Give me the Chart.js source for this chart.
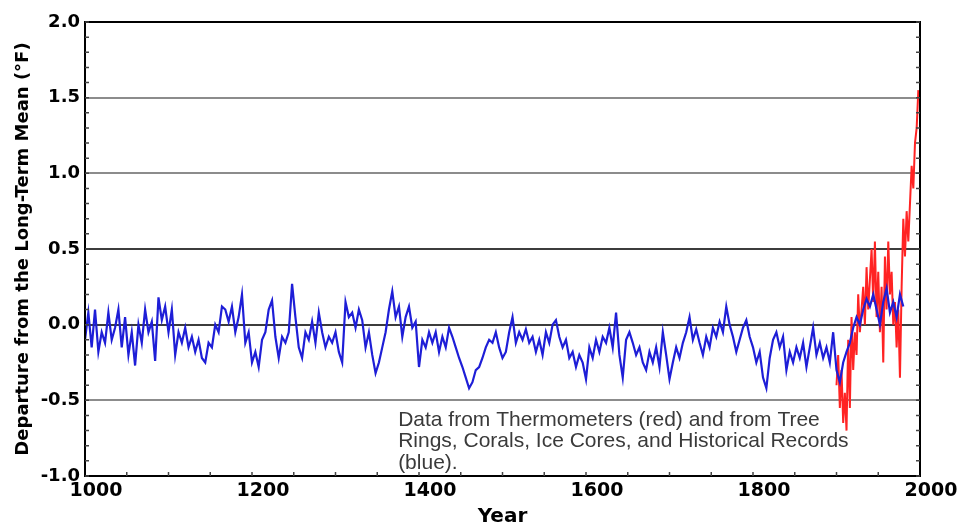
<!DOCTYPE html>
<html>
<head>
<meta charset="utf-8">
<script src="https://cdn.jsdelivr.net/npm/chart.js@4/dist/chart.umd.min.js"></script>
<style>
  html, body { margin: 0; padding: 0; background: #fff; }
</style>
</head>
<body>
<canvas id="chart" width="960" height="527"></canvas>
<script>
// proxy reconstruction (tree rings, corals, ice cores, records), every 4 years from 1000
const blueStart = 1000;
const blueStep = 4;
const blueValues = [
  -0.10, 0.08, -0.15, 0.10, -0.18, -0.05, -0.12, 0.08, -0.10, -0.02,
  0.10, -0.15, 0.05, -0.20, -0.05, -0.27, 0.00, -0.12, 0.10, -0.05,
  0.02, -0.24, 0.18, 0.03, 0.12, -0.05, 0.10, -0.20, -0.05, -0.12,
  -0.02, -0.15, -0.08, -0.18, -0.10, -0.22, -0.25, -0.12, -0.15, 0.00,
  -0.05, 0.12,
  0.10, 0.02, 0.12, -0.05, 0.05, 0.20, -0.12, -0.05, -0.25, -0.18,
  -0.28, -0.10, -0.05, 0.10, 0.16, -0.08, -0.22, -0.08, -0.12, -0.05,
  0.27, 0.05, -0.15, -0.22, -0.05, -0.10, 0.02, -0.12, 0.08, -0.05,
  -0.15, -0.08, -0.12, -0.05, -0.18, -0.25, 0.15, 0.05, 0.08, -0.02,
  0.10, 0.03,
  -0.15, -0.05, -0.20, -0.32, -0.25, -0.15, -0.05, 0.10, 0.22, 0.05,
  0.12, -0.08, 0.05, 0.12, -0.02, 0.02, -0.28, -0.10, -0.15, -0.05,
  -0.12, -0.05, -0.18, -0.08, -0.15, -0.02, -0.08, -0.15, -0.22, -0.28,
  -0.35, -0.42, -0.38, -0.30, -0.28, -0.22, -0.15, -0.10, -0.12, -0.05,
  -0.15, -0.22,
  -0.18, -0.05, 0.05, -0.12, -0.05, -0.10, -0.03, -0.12, -0.08, -0.18,
  -0.10, -0.20, -0.05, -0.12, 0.00, 0.03, -0.08, -0.15, -0.10, -0.22,
  -0.18, -0.28, -0.20, -0.25, -0.36, -0.15, -0.22, -0.10, -0.18, -0.08,
  -0.12, -0.02, -0.15, 0.08, -0.20, -0.35, -0.10, -0.05, -0.12, -0.20,
  -0.15, -0.25,
  -0.30, -0.18, -0.25, -0.15, -0.28, -0.05, -0.20, -0.36, -0.25, -0.15,
  -0.22, -0.12, -0.05, 0.05, -0.10, -0.03, -0.12, -0.20, -0.08, -0.15,
  -0.02, -0.08, 0.02, -0.05, 0.12, 0.00, -0.08, -0.18, -0.10, -0.02,
  0.03, -0.08, -0.15, -0.25, -0.18, -0.35, -0.42, -0.22, -0.10, -0.05,
  -0.15, -0.08,
  -0.30, -0.18, -0.25, -0.15, -0.22, -0.12, -0.28, -0.15, -0.02, -0.20,
  -0.12, -0.22, -0.15, -0.25, -0.05, -0.30, -0.38, -0.25, -0.18, -0.12,
  -0.02, 0.05, 0.00, 0.10, 0.17, 0.12, 0.20, 0.10, 0.00, 0.15,
  0.24, 0.08, 0.15, 0.05, 0.20, 0.12
];

// thermometer record, every 2 years from 1900
const redStart = 1900;
const redStep = 2;
const redValues = [
  -0.40, -0.20, -0.55, -0.30, -0.65, -0.45, -0.70, -0.10, -0.55, 0.05,
  -0.30, -0.05, -0.20, 0.20, -0.05, 0.10, 0.25, 0.00, 0.38, 0.10,
  0.30, 0.50, 0.15, 0.55, 0.05, 0.35, -0.05, 0.25, -0.25, 0.45,
  0.10, 0.55, 0.20, 0.35, 0.00, 0.15, -0.15, 0.10, -0.35, 0.25,
  0.70, 0.45, 0.75, 0.55, 0.80, 1.05, 0.90, 1.20, 1.30, 1.55
];

const noteLines = [
  'Data from Thermometers (red) and from Tree',
  'Rings, Corals, Ice Cores, and Historical Records',
  '(blue).'
];

const toPoints = (start, step, vals) => vals.map((v, i) => ({ x: start + i * step, y: v }));

// frame, small inside ticks and the note
const decor = {
  id: 'decor',
  afterDraw(chart) {
    const { ctx, chartArea: a, scales: { x, y } } = chart;
    ctx.save();
    ctx.strokeStyle = '#000';
    ctx.lineWidth = 2;
    ctx.strokeRect(a.left, a.top, a.right - a.left, a.bottom - a.top);

    ctx.strokeStyle = '#444';
    ctx.lineWidth = 1.5;
    ctx.beginPath();
    for (let k = -10; k <= 20; k++) {
      const py = y.getPixelForValue(k / 10);
      ctx.moveTo(a.left, py); ctx.lineTo(a.left + 4, py);
      ctx.moveTo(a.right, py); ctx.lineTo(a.right - 4, py);
    }
    for (let yr = 1050; yr < 2000; yr += 50) {
      const px = x.getPixelForValue(yr);
      ctx.moveTo(px, a.bottom); ctx.lineTo(px, a.bottom - 4);
    }
    ctx.stroke();

    ctx.fillStyle = '#3a3a3a';
    ctx.font = '21px "Liberation Sans", Arial, sans-serif';
    ctx.textAlign = 'left';
    ctx.textBaseline = 'middle';
    const tx = x.getPixelForValue(1375);
    const ty = y.getPixelForValue(-0.63);
    noteLines.forEach((line, i) => ctx.fillText(line, tx, ty + i * 21.5));
    ctx.restore();
  }
};

const tickFont = { family: 'DejaVu Sans', weight: 'bold', size: 19 };

new Chart(document.getElementById('chart'), {
  type: 'line',
  data: {
    datasets: [
      {
        label: 'Proxy',
        data: toPoints(blueStart, blueStep, blueValues),
        borderColor: 'rgb(30,30,215)',
        borderWidth: 2.2,
        order: 1
      },
      {
        label: 'Thermometers',
        data: toPoints(redStart, redStep, redValues),
        borderColor: 'rgb(255,35,35)',
        borderWidth: 2,
        order: 2
      }
    ]
  },
  options: {
    responsive: false,
    animation: false,
    parsing: false,
    layout: { padding: { top: 22, right: 40, left: 0, bottom: 0 } },
    elements: { point: { radius: 0 }, line: { tension: 0 } },
    plugins: { legend: { display: false }, tooltip: { enabled: false } },
    scales: {
      x: {
        type: 'linear',
        min: 1000,
        max: 2000,
        ticks: {
          stepSize: 200,
          labelOffset: 11,
          padding: 4,
          maxRotation: 0,
          color: '#000',
          font: tickFont,
          callback: v => String(v)
        },
        grid: { display: false, drawTicks: false },
        border: { display: true, color: '#000', width: 2 },
        title: {
          display: true,
          text: 'Year',
          color: '#000',
          font: { family: 'DejaVu Sans', weight: 'bold', size: 20, lineHeight: 1 },
          padding: { top: 0, bottom: 0 }
        },
        afterFit: s => { s.height = 51; }
      },
      y: {
        min: -1,
        max: 2,
        ticks: {
          stepSize: 0.5,
          padding: 5,
          color: '#000',
          font: { family: 'DejaVu Sans', weight: 'bold', size: 18 },
          callback: v => v.toFixed(1)
        },
        grid: {
          drawTicks: false,
          lineWidth: 2,
          color: c => (c.tick && (c.tick.value === 0 || c.tick.value === 0.5)) ? '#3c3c3c' : '#8c8c8c'
        },
        border: { color: '#000', width: 2 },
        title: {
          display: true,
          text: 'Departure from the Long-Term Mean (°F)',
          color: '#000',
          font: { family: 'DejaVu Sans', weight: 'bold', size: 18, lineHeight: 1 },
          padding: { top: 14, bottom: 0 }
        },
        afterFit: s => { s.width = 85; }
      }
    }
  },
  plugins: [decor]
});
</script>
</body>
</html>
